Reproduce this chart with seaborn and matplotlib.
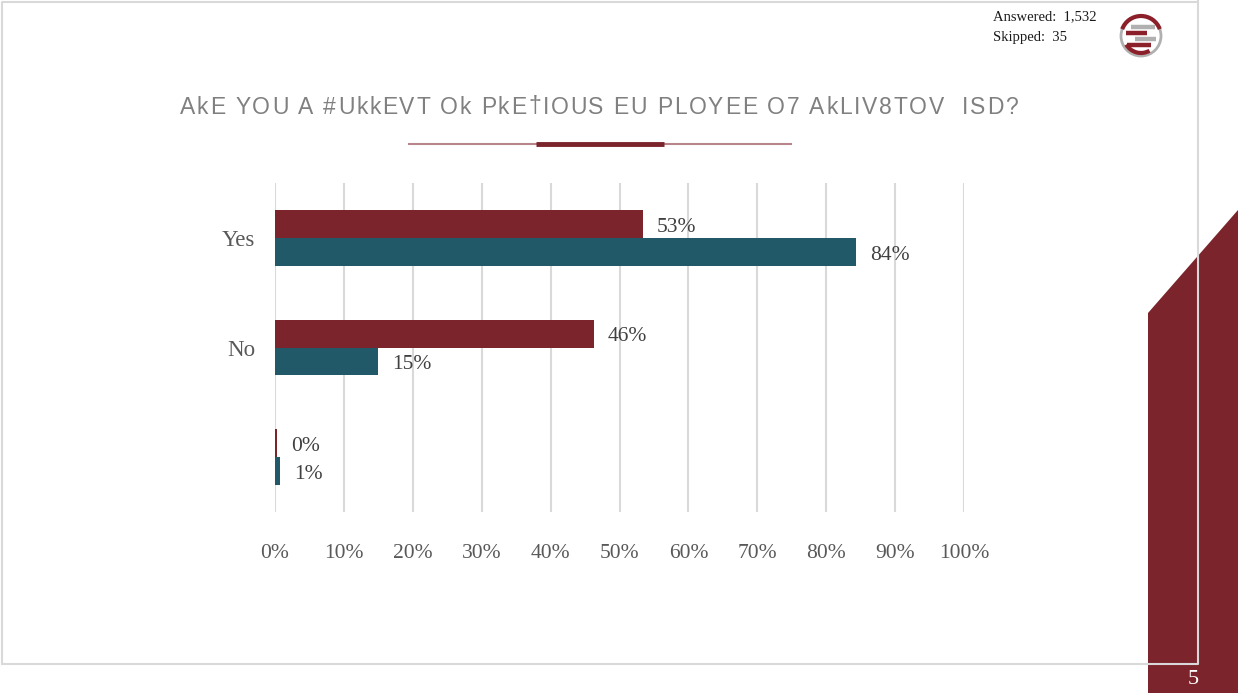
import matplotlib
matplotlib.use("Agg")
import matplotlib.pyplot as plt
import matplotlib.patches as mpatches
from matplotlib.font_manager import FontProperties
import numpy as np
import pandas as pd
import seaborn as sns

# ---- data -------------------------------------------------------------
answers = ["Yes", "No", " "]
group_names = ["Group 1", "Group 2"]
group1_pct = [53.4, 46.3, 0.3]
group2_pct = [84.3, 15.0, 0.7]
x_ticks = [0, 10, 20, 30, 40, 50, 60, 70, 80, 90, 100]
x_tick_labels = [f"{t}%" for t in x_ticks]

title_text = "AkE YOU A #UkkEVT Ok PkE\u2020IOUS EU PLOYEE O7 AkLIV8TOV  ISD?"
answered_text = "Answered:  1,532"
skipped_text = "Skipped:  35"
page_number = "5"

colors = ["#7B242C", "#215968"]
W, H = 1238, 693

df = pd.DataFrame({
    "answer": answers * 2,
    "group": [group_names[0]] * 3 + [group_names[1]] * 3,
    "pct": group1_pct + group2_pct,
})

sns.set_theme(style="white")
plt.rcParams["font.family"] = ["Liberation Serif", "DejaVu Serif"]

fig = plt.figure(figsize=(W / 100, H / 100), dpi=100)
fig.patch.set_facecolor("white")
renderer = fig.canvas.get_renderer()


def fx(x):
    return x / W


def fy(y):
    return 1 - y / H


# ---- page decoration --------------------------------------------------
bg = fig.add_axes([0, 0, 1, 1], zorder=-5)
bg.set_xlim(0, W)
bg.set_ylim(H, 0)
bg.axis("off")
bg.add_patch(mpatches.Polygon([(1148, 313), (1238, 210), (1238, 693), (1148, 693)],
                              closed=True, facecolor="#7B242C", edgecolor="none", zorder=1))
bg.plot([1.5, 1198, 1198], [664, 664, 0], color="#d9d9d9", lw=1.5, zorder=2)
bg.plot([1.5, 1.5, 1198], [664, 2, 2], color="#d9d9d9", lw=1.5, zorder=2)
bg.text(1193, 679, page_number, color="white", fontsize=16, ha="center", va="center", zorder=3)


# title, letter-spaced across a fixed span
def advance(ch, prop):
    w_pair, _, _ = renderer.get_text_width_height_descent("xx", prop, ismath=False)
    w_tri, _, _ = renderer.get_text_width_height_descent("x" + ch + "x", prop, ismath=False)
    return w_tri - w_pair


title_prop = FontProperties(family="Liberation Sans", size=16.5)
adv = [advance(c, title_prop) for c in title_text]
x_start, x_end = 180, 1018
track = (x_end - x_start - sum(adv)) / (len(title_text) - 1)
xc = x_start
for c, a in zip(title_text, adv):
    if c != " ":
        bg.text(xc, 107, c, fontproperties=title_prop, color="#808080", ha="left", va="center")
    xc += a + track

bg.plot([408, 792], [144, 144], color="#b8868a", lw=1.5, solid_capstyle="butt")
bg.plot([536, 664], [144, 144], color="#7B242C", lw=3.5, solid_capstyle="butt")

# response counts
bg.text(993, 17, answered_text, fontsize=10.5, color="#1a1a1a", ha="left", va="center")
bg.text(993, 37, skipped_text, fontsize=10.5, color="#1a1a1a", ha="left", va="center")

# round logo
cx, cy, r = 1141, 36, 20
bg.add_patch(mpatches.Circle((cx, cy), r, facecolor="white", edgecolor="#b0b0b0", lw=2, zorder=3))
bg.add_patch(mpatches.Arc((cx, cy), 2 * r, 2 * r, theta1=200, theta2=340,
                          color="#8B1F2A", lw=3, zorder=4))
bg.add_patch(mpatches.Arc((cx, cy), 2 * r - 6, 2 * r - 6, theta1=60, theta2=150,
                          color="#8B1F2A", lw=3, zorder=4))
for yy, col, x0, x1 in [(cy - 9, "#b0b0b0", cx - 10, cx + 14), (cy - 3, "#8B1F2A", cx - 15, cx + 6),
                        (cy + 3, "#b0b0b0", cx - 6, cx + 15), (cy + 9, "#8B1F2A", cx - 14, cx + 10)]:
    bg.plot([x0, x1], [yy, yy], color=col, lw=3.2, solid_capstyle="butt", zorder=5)

# ---- chart ------------------------------------------------------------
ax = fig.add_axes([fx(275), fy(512), fx(964) - fx(275), (512 - 183) / H])
sns.barplot(data=df, y="answer", x="pct", hue="group", order=answers, hue_order=group_names,
            palette=colors, orient="h", width=0.51, saturation=1, ax=ax,
            edgecolor="none", legend=False, errorbar=None)

ax.set_xlim(0, 100)
ax.set_ylim(2.5, -0.5)
ax.set_xticks(x_ticks)
ax.set_xticklabels(x_tick_labels)
ax.set_xlabel("")
ax.set_ylabel("")
for s in ax.spines.values():
    s.set_visible(False)
ax.grid(axis="x", color="#d9d9d9", lw=1.5)
ax.grid(axis="y", visible=False)
ax.set_axisbelow(True)
ax.tick_params(axis="x", length=0, pad=23, labelsize=15.5, labelcolor="#595959")
ax.tick_params(axis="y", length=0, pad=14, labelsize=16.5, labelcolor="#595959")

for cont in ax.containers:
    anns = ax.bar_label(cont, labels=[f"{v:.0f}%" for v in cont.datavalues], padding=10,
                        fontsize=15.5, color="#404040")
    for a in anns:
        a.xyann = (10, -2.5)

fig.savefig("out.png", dpi=100, facecolor="white")
